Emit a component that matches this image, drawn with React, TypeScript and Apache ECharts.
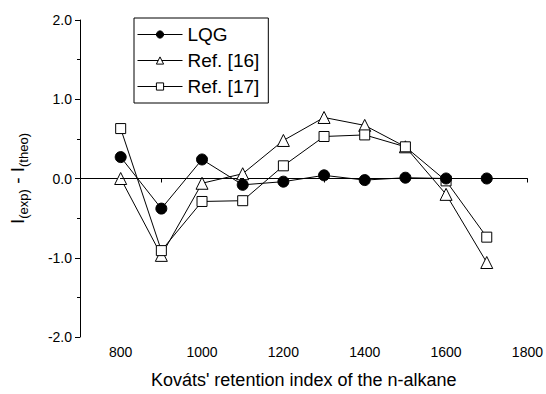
import React, { useEffect, useRef } from "react";
import * as echarts from "echarts";

const xValues = [800, 900, 1000, 1100, 1200, 1300, 1400, 1500, 1600, 1700];
const lqg = [0.27, -0.38, 0.24, -0.08, -0.04, 0.04, -0.02, 0.01, 0.0, 0.0];
const ref16 = [0.0, -0.97, -0.06, 0.06, 0.48, 0.77, 0.67, 0.4, -0.2, -1.06];
const ref17 = [0.63, -0.91, -0.29, -0.28, 0.16, 0.53, 0.55, 0.4, -0.03, -0.74];
const seriesNames = ["LQG", "Ref. [16]", "Ref. [17]"];

const FONT = "'Liberation Sans', Arial, sans-serif";

export default function App() {
  const ref = useRef<HTMLDivElement>(null);
  useEffect(() => {
    const chart = echarts.init(ref.current!, null, { renderer: "svg" });
    const pts = (ys: number[]) => xValues.map((x, i) => [x, ys[i]]);
    chart.setOption({
      animation: false,
      backgroundColor: "#fff",
      grid: { left: 76, right: 16, top: 20, bottom: 53, containLabel: false },
      legend: {
        orient: "vertical",
        left: 134,
        top: 18,
        borderColor: "#000",
        borderWidth: 1,
        padding: [7, 9, 7, 3],
        itemGap: 7,
        itemWidth: 45,
        itemHeight: 9,
        textStyle: { fontSize: 19, color: "#000", fontFamily: FONT },
        lineStyle: { width: 1 },
        itemStyle: { borderWidth: 1 },
        data: seriesNames,
      },
      xAxis: {
        type: "value",
        min: 700,
        max: 1800,
        interval: 100,
        splitLine: { show: false },
        axisLine: { lineStyle: { color: "#000", width: 1 } },
        axisTick: { length: 4, lineStyle: { color: "#000" } },
        axisLabel: {
          color: "#000",
          fontSize: 14,
          fontFamily: FONT,
          margin: 8,
          formatter: (v: number) => (v % 200 === 0 ? String(v) : ""),
        },
        name: "Kováts' retention index of the n-alkane",
        nameLocation: "middle",
        nameGap: 34,
        nameTextStyle: { color: "#000", fontSize: 18, fontFamily: FONT },
      },
      yAxis: {
        type: "value",
        min: -2,
        max: 2,
        interval: 1,
        splitLine: { show: false },
        axisLine: { lineStyle: { color: "#000", width: 1 } },
        axisTick: { length: 5, lineStyle: { color: "#000" } },
        minorTick: { show: true, splitNumber: 2, length: 3, lineStyle: { color: "#000" } },
        axisLabel: {
          color: "#000",
          fontSize: 14,
          fontFamily: FONT,
          margin: 8,
          formatter: (v: number) => v.toFixed(1),
        },
        name: "I{sub|(exp)} - I{sub|(theo)}",
        nameLocation: "middle",
        nameRotate: 90,
        nameGap: 50,
        nameTextStyle: {
          color: "#000",
          fontSize: 19,
          fontFamily: FONT,
          rich: {
            sub: { fontSize: 13, fontFamily: FONT, color: "#000", padding: [12, 0, 0, 0] },
          },
        },
      },
      series: [
        {
          name: seriesNames[1],
          type: "line",
          data: pts(ref16),
          symbol: "triangle",
          symbolSize: 12,
          lineStyle: { color: "#000", width: 1 },
          itemStyle: { color: "#fff", borderColor: "#000", borderWidth: 1 },
          z: 2,
        },
        {
          name: seriesNames[2],
          type: "line",
          data: pts(ref17),
          symbol: "rect",
          symbolSize: 10,
          lineStyle: { color: "#000", width: 1 },
          itemStyle: { color: "#fff", borderColor: "#000", borderWidth: 1 },
          z: 3,
        },
        {
          name: seriesNames[0],
          type: "line",
          data: pts(lqg),
          symbol: "circle",
          symbolSize: 11,
          lineStyle: { color: "#000", width: 1 },
          itemStyle: { color: "#000", borderColor: "#000" },
          z: 4,
          markLine: {
            silent: true,
            symbol: "none",
            label: { show: false },
            lineStyle: { color: "#000", type: [4, 4], width: 1 },
            data: [{ yAxis: 0 }],
          },
        },
      ],
    });
    return () => chart.dispose();
  }, []);
  return (
    <div
      ref={ref}
      style={{ position: "fixed", left: 0, top: 0, width: 546, height: 394 }}
    />
  );
}
